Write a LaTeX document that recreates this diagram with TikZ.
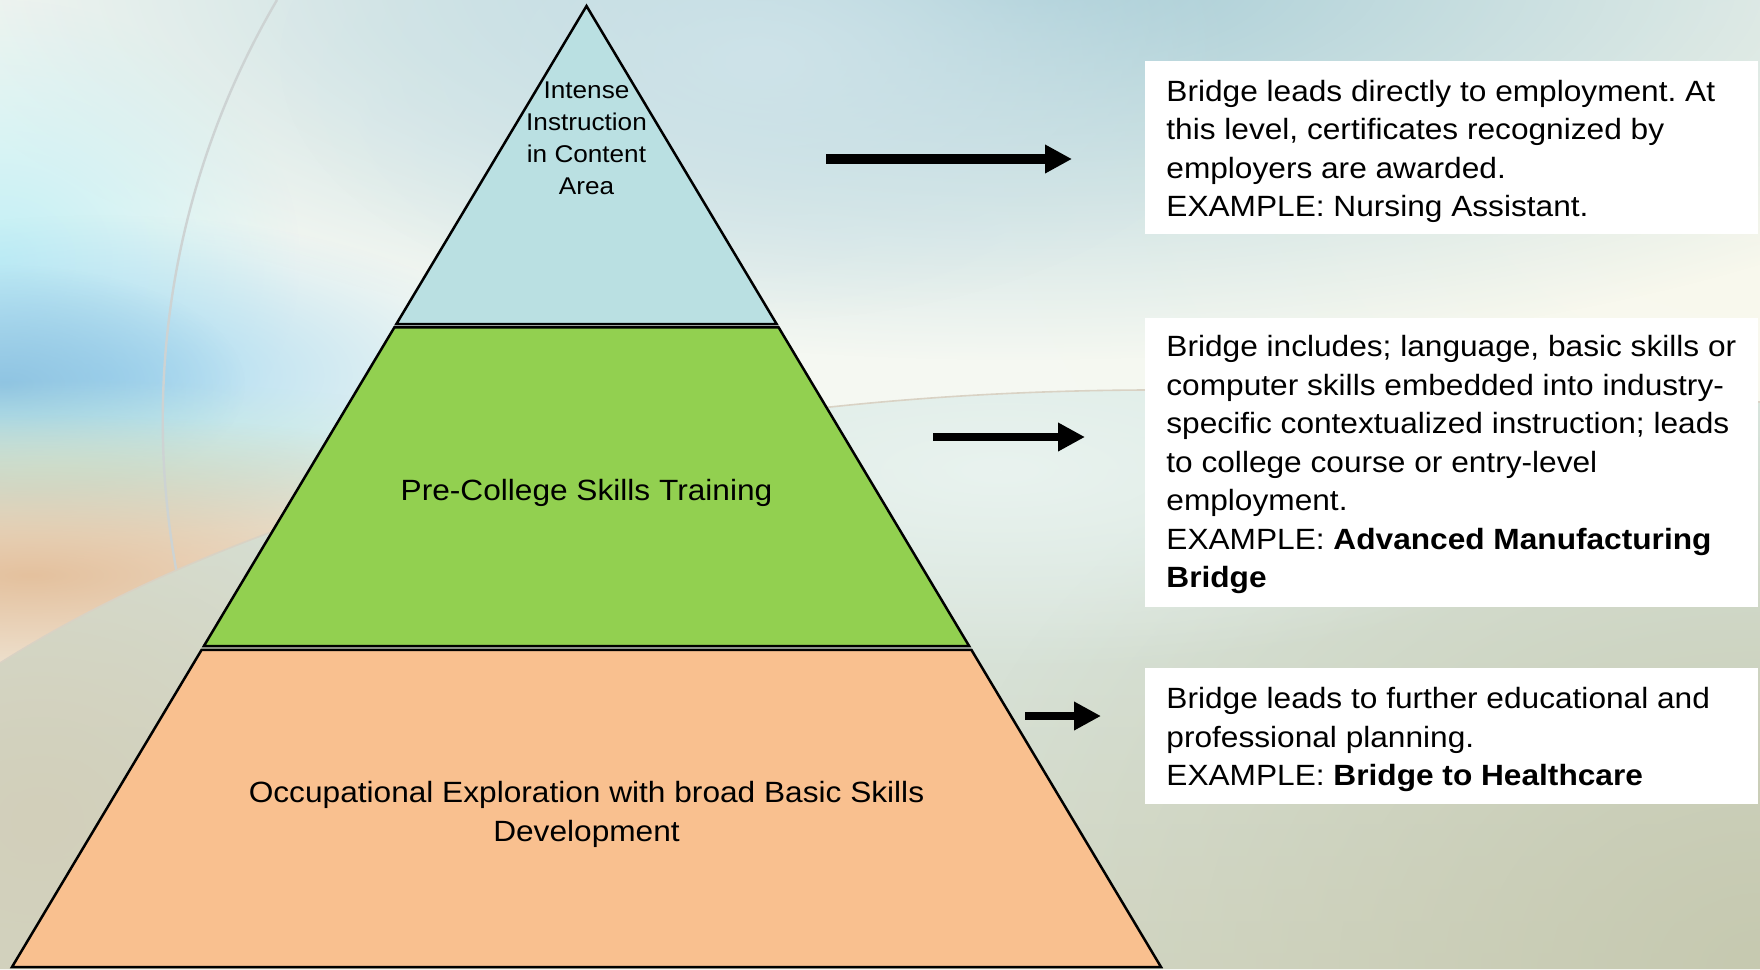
\documentclass[tikz,border=0pt]{standalone}
\usepackage{fontspec}
\setmainfont{Liberation Sans}[FakeStretch=1.08]
\frenchspacing
\usetikzlibrary{calc,arrows.meta,fadings}
\tikzfading[name=blobfade, inner color=transparent!0, outer color=transparent!100]
\definecolor{tiertop}{HTML}{BAE0E2}
\definecolor{tiermid}{HTML}{92D050}
\definecolor{tierbot}{HTML}{F9C08F}
\definecolor{bgbase}{HTML}{F5F8F2}
\definecolor{bgteal}{HTML}{A6CCD6}
\definecolor{bgcyan}{HTML}{C2F0F6}
\definecolor{bgblue}{HTML}{8FC4E2}
\definecolor{bgsky}{HTML}{A8DAF2}
\definecolor{bgmint}{HTML}{C4EADF}
\definecolor{bgpeach}{HTML}{E4C19E}
\definecolor{bgcream}{HTML}{FAF8EC}
\definecolor{lowtop}{HTML}{DAEAE5}
\definecolor{lowbot}{HTML}{D4D8C6}
\definecolor{lowdark}{HTML}{C6C9B0}
\definecolor{lowbeige}{HTML}{D2CFBA}
\definecolor{arcline}{HTML}{CDD3D3}
\definecolor{arcline2}{HTML}{D9D2C4}
\newcommand\bgblob[4]{\fill[#1,path fading=blobfade] (#2) ellipse [x radius=#3*2, y radius=#4*2];}
\begin{document}
\begin{tikzpicture}[x=0.5pt,y=-0.5pt,
  tier/.style={draw=black, line width=1.25pt, line join=miter},
  toptext/.style={font=\fontsize{12.1}{16}\selectfont, align=center, inner sep=0pt},
  midtext/.style={font=\fontsize{14.65}{19.75}\selectfont, align=center, inner sep=0pt},
  boxtext/.style={font=\fontsize{14.65}{19.25}\selectfont, align=left, inner sep=0pt},
  infobox/.style={fill=white},
  bigarrow/.style={line width=#1, -{Triangle[length=13.5pt,width=13.5pt]}},
]
\useasboundingbox (0,0) rectangle (1760,969);
\clip (0,0) rectangle (1760,969);
% ---------------- background ----------------
\fill[bgbase] (0,0) rectangle (1760,969);
\bgblob{bgcream}{1760,120}{380}{300}
\bgblob{bgteal}{1020,-20}{560}{190}
\bgblob{bgteal!55!white}{760,60}{240}{130}
\bgblob{bgcyan}{0,260}{150}{130}
\bgblob{bgsky}{100,375}{210}{80}
\bgblob{bgblue}{5,385}{120}{60}
\bgblob{bgmint}{60,470}{260}{45}
\bgblob{bgpeach}{30,575}{340}{80}
\draw[arcline, line width=1.2pt] (277,0) arc[start angle=210.4, end angle=150, radius=831];
\path[top color=lowtop, bottom color=lowbot]
  (0,663) .. controls (250,505) and (650,392) .. (1145,390)
  .. controls (1400,388) and (1600,395) .. (1760,402) -- (1760,969) -- (0,969) -- cycle;
\begin{scope}
  \clip (0,663) .. controls (250,505) and (650,392) .. (1145,390)
  .. controls (1400,388) and (1600,395) .. (1760,402) -- (1760,969) -- (0,969) -- cycle;
  \bgblob{lowdark}{1760,969}{420}{330}
  \bgblob{lowbeige}{40,820}{300}{260}
  \bgblob{lowtop!60!white}{1000,470}{320}{100}
\end{scope}
\draw[arcline2, line width=0.8pt] (0,663) .. controls (250,505) and (650,392) .. (1145,390)
  .. controls (1400,388) and (1600,395) .. (1760,402);
% ---------------- pyramid ----------------
\coordinate (apex) at (586.5,6);
\coordinate (bl) at (12,967);
\coordinate (br) at (1161,967);
\coordinate (t1l) at ($(apex)!{(324-6)/961}!(bl)$);
\coordinate (t1r) at ($(apex)!{(324-6)/961}!(br)$);
\coordinate (t2l) at ($(apex)!{(327.5-6)/961}!(bl)$);
\coordinate (t2r) at ($(apex)!{(327.5-6)/961}!(br)$);
\coordinate (t3l) at ($(apex)!{(646-6)/961}!(bl)$);
\coordinate (t3r) at ($(apex)!{(646-6)/961}!(br)$);
\coordinate (t4l) at ($(apex)!{(650-6)/961}!(bl)$);
\coordinate (t4r) at ($(apex)!{(650-6)/961}!(br)$);
\draw[tier, fill=tiertop] (apex) -- (t1l) -- (t1r) -- cycle;
\draw[tier, fill=tiermid] (t2l) -- (t3l) -- (t3r) -- (t2r) -- cycle;
\draw[tier, fill=tierbot] (t4l) -- (bl) -- (br) -- (t4r) -- cycle;
% multi-line nodes: base anchor = baseline of last line
\node[toptext, anchor=base] (lvltop) at (586.5,194) {Intense\\Instruction\\in Content\\Area};
\node[midtext, anchor=base] (lvlmid) at (586.5,500.5) {Pre-College Skills Training};
\node[midtext, anchor=base] (lvlbot) at (586.5,841.5) {Occupational Exploration with broad Basic Skills\\Development};
% ---------------- description boxes ----------------
\fill[infobox] (1145,61) rectangle (1758,234);
\fill[infobox] (1145,318) rectangle (1758,607);
\fill[infobox] (1145,668) rectangle (1758,804);
\node[boxtext, anchor=base west] (desc1) at (1166,216.5)
  {Bridge leads directly to employment. At\\this level, certificates recognized by\\employers are awarded.\\EXAMPLE: Nursing Assistant.};
\node[boxtext, anchor=base west] (desc2) at (1166,587.5)
  {Bridge includes; language, basic skills or\\computer skills embedded into industry-\\specific contextualized instruction; leads\\to college course or entry-level\\employment.\\EXAMPLE: \textbf{Advanced Manufacturing}\\\textbf{Bridge}};
\node[boxtext, anchor=base west] (desc3) at (1166,785.5)
  {Bridge leads to further educational and\\professional planning.\\EXAMPLE: \textbf{Bridge to Healthcare}};
% ---------------- arrows ----------------
\coordinate (a1s) at (826,159);
\coordinate (a1e) at (1072,159);
\coordinate (a2s) at (933,437);
\coordinate (a2e) at (1085,437);
\coordinate (a3s) at (1025,716);
\coordinate (a3e) at (1101,716);
\draw[bigarrow=4.6pt] (a1s) -- (a1e);
\draw[bigarrow=3.6pt] (a2s) -- (a2e);
\draw[bigarrow=4pt] (a3s) -- (a3e);
\end{tikzpicture}
\end{document}
